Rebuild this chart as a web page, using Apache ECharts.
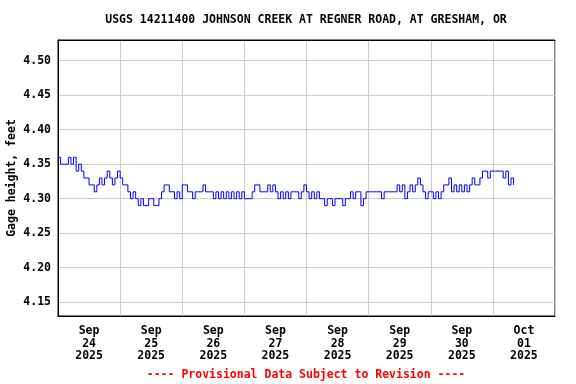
<!DOCTYPE html>
<html>
<head>
<meta charset="utf-8">
<script src="https://cdn.jsdelivr.net/npm/echarts@6/dist/echarts.min.js"></script>
<style>html,body{margin:0;padding:0;background:#fff}#c{width:576px;height:384px}</style>
</head>
<body>
<div id="c"></div>
<script>
// Hourly gage height (ft), one array per day, starting at 00:00 of each day
const sep24 = [4.36,4.35,4.35,4.35,4.36,4.35,4.36,4.34,4.35,4.34,4.33,4.33,4.32,4.32,4.31,4.32,4.33,4.32,4.33,4.34,4.33,4.32,4.33,4.34];
const sep25 = [4.33,4.32,4.32,4.31,4.30,4.31,4.30,4.29,4.30,4.29,4.29,4.30,4.30,4.29,4.29,4.30,4.31,4.32,4.32,4.31,4.31,4.30,4.31,4.30];
const sep26 = [4.32,4.32,4.31,4.31,4.30,4.31,4.31,4.31,4.32,4.31,4.31,4.31,4.30,4.31,4.30,4.31,4.30,4.31,4.30,4.31,4.30,4.31,4.30,4.31];
const sep27 = [4.30,4.30,4.30,4.31,4.32,4.32,4.31,4.31,4.31,4.32,4.31,4.32,4.31,4.30,4.31,4.30,4.31,4.30,4.31,4.31,4.31,4.30,4.31,4.32];
const sep28 = [4.31,4.30,4.31,4.30,4.31,4.30,4.30,4.29,4.30,4.30,4.29,4.30,4.30,4.30,4.29,4.30,4.30,4.31,4.30,4.31,4.31,4.29,4.30,4.31];
const sep29 = [4.31,4.31,4.31,4.31,4.31,4.30,4.31,4.31,4.31,4.31,4.31,4.32,4.31,4.32,4.30,4.31,4.32,4.31,4.32,4.33,4.32,4.31,4.30,4.31];
const sep30 = [4.31,4.30,4.31,4.30,4.31,4.32,4.32,4.33,4.31,4.32,4.31,4.32,4.31,4.32,4.31,4.32,4.33,4.32,4.32,4.33,4.34,4.34,4.33,4.34];
const oct01 = [4.34,4.34,4.34,4.34,4.33,4.34,4.32,4.33,4.32];

const dayLabels = ['Sep\n24\n2025','Sep\n25\n2025','Sep\n26\n2025','Sep\n27\n2025','Sep\n28\n2025','Sep\n29\n2025','Sep\n30\n2025','Oct\n01\n2025'];
const titleText = 'USGS 14211400 JOHNSON CREEK AT REGNER ROAD, AT GRESHAM, OR';
const noteText = '---- Provisional Data Subject to Revision ----';
const yName = 'Gage height, feet';

const values = [].concat(sep24, sep25, sep26, sep27, sep28, sep29, sep30, oct01);
const seriesData = values.map((v, i) => [i, v]);

const FONT = 'DejaVu Sans Mono';
const blackLine = {show: true, lineStyle: {color: '#000', width: 1}};
const chart = echarts.init(document.getElementById('c'), null, {renderer: 'canvas'});
chart.setOption({
  animation: false,
  backgroundColor: '#fff',
  grid: {left: 58, right: 21, top: 40, bottom: 68, show: true, borderColor: '#000', borderWidth: 1, backgroundColor: 'transparent',
         containLabel: false, outerBoundsMode: 'none'},
  graphic: [
    {type: 'text', x: 306, y: 20, style: {text: titleText, fill: '#000', font: 'bold 11.5px "' + FONT + '"', textAlign: 'center', textVerticalAlign: 'middle'}},
    {type: 'text', x: 306, y: 375, style: {text: noteText, fill: '#ff0000', font: 'bold 11.5px "' + FONT + '"', textAlign: 'center', textVerticalAlign: 'middle'}}
  ],
  xAxis: [
    {type: 'value', min: 0, max: 192, interval: 24, position: 'bottom', axisLine: blackLine, axisTick: {show: false}, axisLabel: {show: false},
     splitLine: {show: true, lineStyle: {color: '#cccccc', width: 1}}},
    {type: 'value', min: 0, max: 192, interval: 12, position: 'bottom', axisLine: {show: false}, axisTick: {show: false},
     splitLine: {show: false},
     axisLabel: {show: true, margin: 9, color: '#000', fontFamily: FONT, fontWeight: 'bold', fontSize: 11.5, lineHeight: 12.5, align: 'center', verticalAlign: 'top',
       formatter: function (v) { return (v % 24 === 12) ? dayLabels[(v - 12) / 24] : ''; }}},
    {type: 'value', min: 0, max: 192, position: 'top', axisLine: blackLine, axisTick: {show: false}, axisLabel: {show: false}, splitLine: {show: false}}
  ],
  yAxis: [{
    type: 'value', min: 4.13, max: 4.53, splitNumber: 8, position: 'left',
    name: yName, nameLocation: 'middle', nameRotate: 90, nameGap: 40, nameMoveOverlap: false,
    nameTextStyle: {color: '#000', fontFamily: FONT, fontWeight: 'bold', fontSize: 11.5},
    axisLine: blackLine, axisTick: {show: false},
    splitLine: {show: true, lineStyle: {color: '#cccccc', width: 1}},
    axisLabel: {showMinLabel: false, showMaxLabel: false, margin: 7, color: '#000', fontFamily: FONT, fontWeight: 'bold', fontSize: 11.5,
      formatter: function (v) { return v.toFixed(2); }}
  }, {
    type: 'value', min: 4.13, max: 4.53, position: 'right', axisLine: blackLine, axisTick: {show: false}, axisLabel: {show: false}, splitLine: {show: false}
  }],
  series: [{
    type: 'line', xAxisIndex: 0, yAxisIndex: 0, data: seriesData, step: 'end', showSymbol: false, symbol: 'none',
    lineStyle: {color: '#0000ff', width: 1}, itemStyle: {color: '#0000ff'}
  }]
});
</script>
</body>
</html>
